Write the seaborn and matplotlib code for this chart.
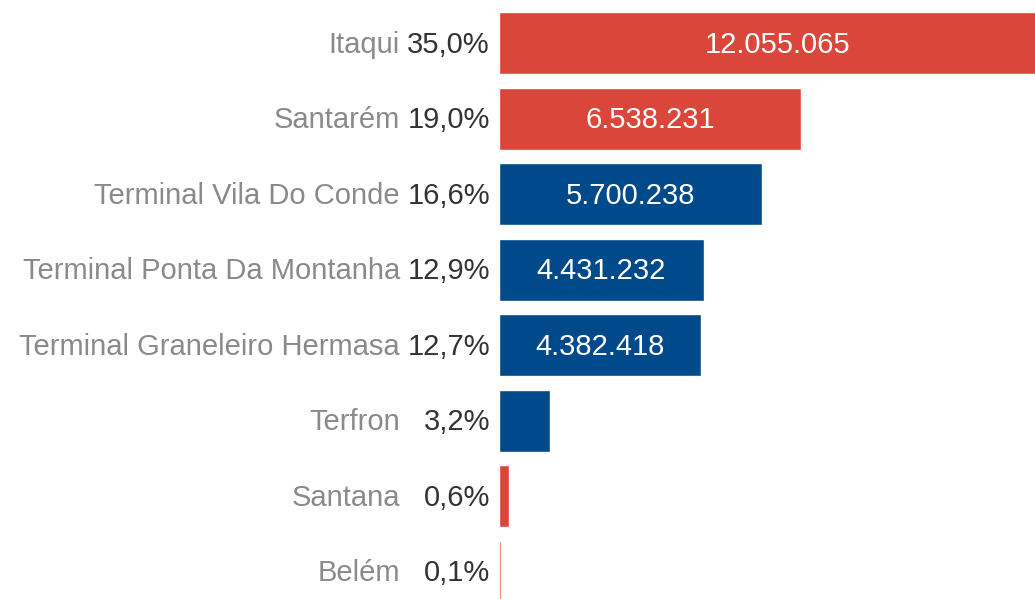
import matplotlib
matplotlib.use("Agg")
import matplotlib.pyplot as plt
import seaborn as sns
import pandas as pd

# dados
terminais = ["Itaqui", "Santarém", "Terminal Vila Do Conde", "Terminal Ponta Da Montanha",
             "Terminal Graneleiro Hermasa", "Terfron", "Santana", "Belém"]
toneladas = [12055065, 6538231, 5700238, 4431232, 4382418, 1100000, 210000, 34000]
percentuais = ["35,0%", "19,0%", "16,6%", "12,9%", "12,7%", "3,2%", "0,6%", "0,1%"]
grupo = ["A", "A", "B", "B", "B", "B", "A", "A"]
rotulos = ["12.055.065", "6.538.231", "5.700.238", "4.431.232", "4.382.418", "", "", ""]

CORES = {"A": "#db463b", "B": "#004a8b"}

df = pd.DataFrame({"terminal": terminais, "toneladas": toneladas, "grupo": grupo})

sns.set_style("white")
plt.rcParams["font.family"] = ["Liberation Sans", "DejaVu Sans"]

fig = plt.figure(figsize=(10.35, 5.99), dpi=100)
ax = fig.add_axes([499 / 1035, 0, 536 / 1035, 1])

sns.barplot(data=df, y="terminal", x="toneladas", hue="grupo", palette=CORES,
            saturation=1, orient="h", dodge=False, width=0.82, legend=False, ax=ax)

ax.set_xlim(0, 11.6e6)
ax.set_ylim(7.36, -0.57)
ax.set_xlabel("")
ax.set_ylabel("")
ax.set_xticks([])
ax.set_yticks([])
for s in ax.spines.values():
    s.set_visible(False)

trans = ax.get_yaxis_transform()
for i, (nome, pct, val, rot) in enumerate(zip(terminais, percentuais, toneladas, rotulos)):
    ax.text(-99 / 536, i + 0.02, nome, transform=trans, ha="right", va="center",
            fontsize=21, color="#8a8a8a", clip_on=False)
    ax.text(-9 / 536, i + 0.02, pct, transform=trans, ha="right", va="center",
            fontsize=21, color="#333333", clip_on=False)
    if rot:
        ax.text(val / 2, i + 0.02, rot, ha="center", va="center",
                fontsize=21, color="white")

fig.savefig("out.png", dpi=100)
